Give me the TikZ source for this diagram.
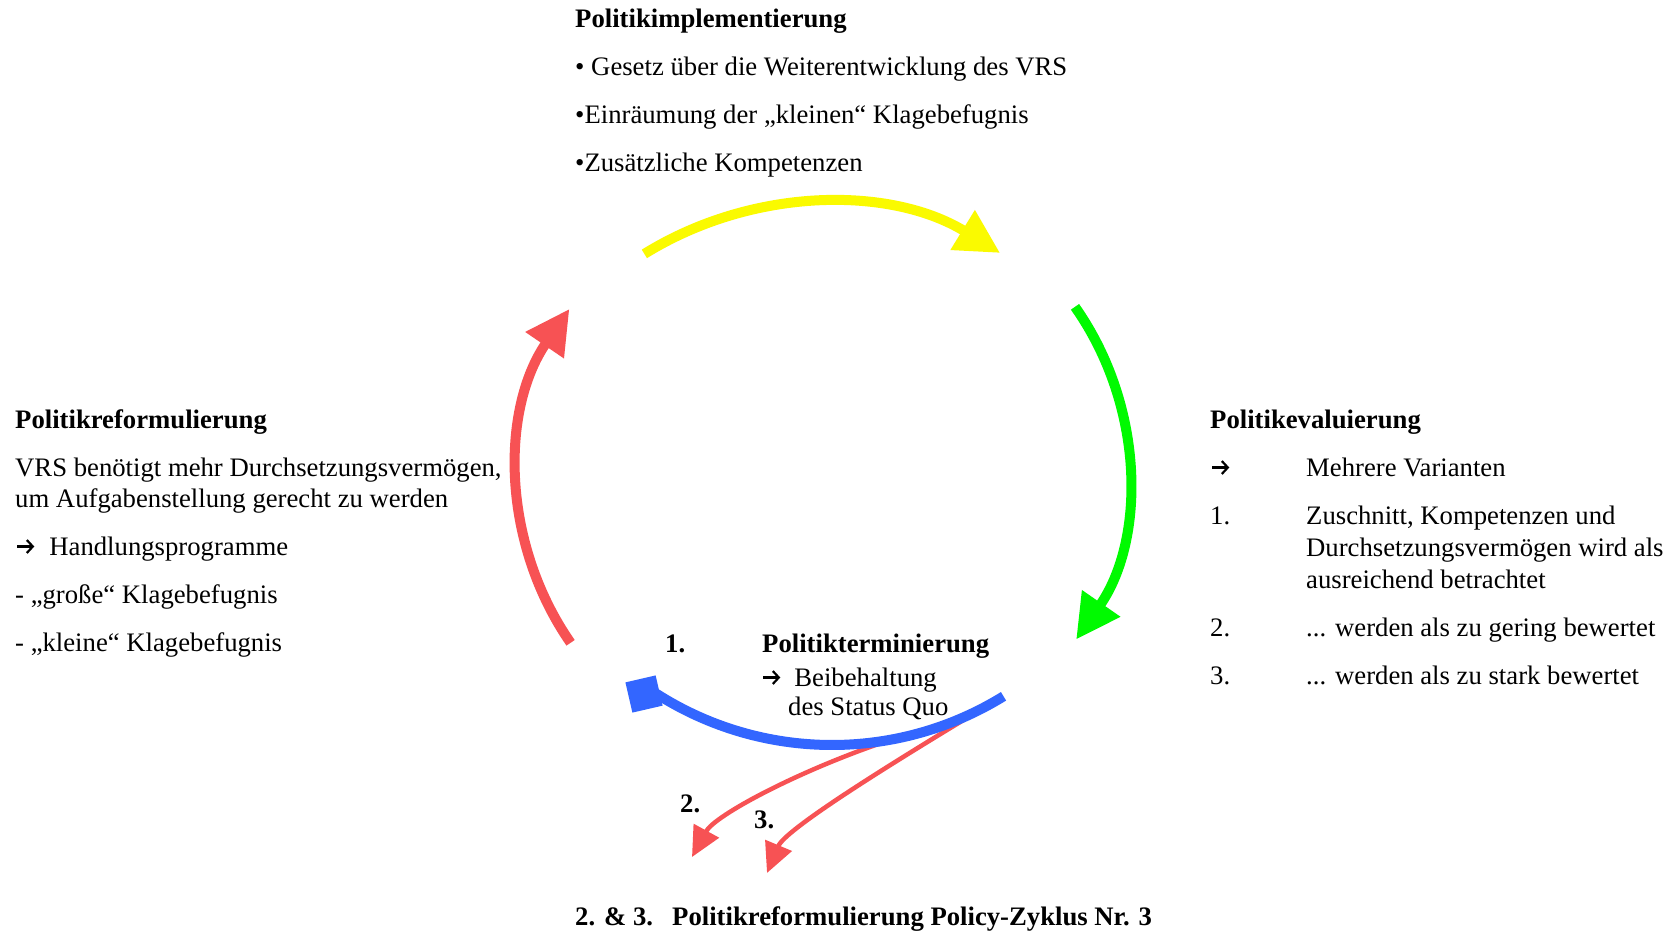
\documentclass[tikz,border=0pt]{standalone}
\usepackage{fontspec}
\setmainfont{Liberation Serif}
\usetikzlibrary{arrows.meta}
\newcommand{\arrglyph}{\tikz[baseline=0pt]\draw[line width=2.2pt, -{Straight Barb[length=6pt,width=13pt,line width=2.2pt]}] (0pt,8.5pt) -- (17pt,8.5pt);}
\definecolor{cyel}{RGB}{250,250,0}
\definecolor{cgreen}{RGB}{0,250,0}
\definecolor{cred}{RGB}{247,82,84}
\definecolor{cblue}{RGB}{51,102,255}
\begin{document}
\begin{tikzpicture}[x=1pt,y=1pt,
  txt/.style={anchor=base west, inner sep=0pt, font=\fontsize{26.7}{32}\selectfont},
  btxt/.style={anchor=base west, inner sep=0pt, font=\fontsize{26.7}{32}\selectfont\bfseries},
  bigarrow/.style={line width=10pt, -{Triangle[length=44pt,width=44pt]}},
  smallarrow/.style={line width=4.5pt, cred, -{Triangle[length=30pt,width=28pt]}}]
\useasboundingbox (0,0) rectangle (1677,-930);
\fill[white] (0,0) rectangle (1677,-930);

% top block
\node[btxt] (ttitle) at (575,-27) {Politikimplementierung};
\node[txt] (t1) at (575,-75) {• Gesetz über die Weiterentwicklung des VRS};
\node[txt] (t2) at (575,-123) {•Einräumung der „kleinen“ Klagebefugnis};
\node[txt] (t3) at (575,-171) {•Zusätzliche Kompetenzen};

% left block
\node[btxt] (ltitle) at (15,-428) {Politikreformulierung};
\node[txt] (l1) at (15,-476) {VRS benötigt mehr Durchsetzungsvermögen,};
\node[txt] (l2) at (15,-507) {um Aufgabenstellung gerecht zu werden};
\node[txt] (l3) at (16,-555) {\arrglyph\hspace{14pt}Handlungsprogramme};
\node[txt] (l4) at (15,-603) {- „große“ Klagebefugnis};
\node[txt] (l5) at (15,-651) {- „kleine“ Klagebefugnis};

% right block
\node[btxt] (rtitle) at (1210,-428) {Politikevaluierung};
\node[txt] (ra) at (1211,-476) {\arrglyph};
\node[txt] (r0) at (1306,-476) {Mehrere Varianten};
\node[txt] (rn1) at (1210,-524) {1.};
\node[txt] (r1a) at (1306,-524) {Zuschnitt, Kompetenzen und};
\node[txt] (r1b) at (1306,-556) {Durchsetzungsvermögen wird als};
\node[txt] (r1c) at (1306,-588) {ausreichend betrachtet};
\node[txt] (rn2) at (1210,-636) {2.};
\node[txt] (r2) at (1306,-636) {... werden als zu gering bewertet};
\node[txt] (rn3) at (1210,-684) {3.};
\node[txt] (r3) at (1306,-684) {... werden als zu stark bewertet};

% bottom center
\node[btxt] (bn1) at (665,-652) {1.};
\node[btxt] (btitle) at (762,-652) {Politikterminierung};
\node[txt] (b1) at (762,-686) {\arrglyph\hspace{13pt}Beibehaltung};
\node[txt] (b2) at (788,-715) {des Status Quo};
\node[btxt] (bn2) at (680,-812) {2.};
\node[btxt] (bn3) at (754,-828) {3.};
\node[btxt] (f1) at (575,-925) {2. \& 3.};
\node[btxt] (f2) at (672,-925) {Politikreformulierung Policy-Zyklus Nr. 3};

% cycle arrows
\coordinate (yc) at (823,-542);
\coordinate (gc) at (838,-474);
\coordinate (bc) at (832,-418.6);
\coordinate (rc) at (812,-475);
\draw[bigarrow, cyel] ([shift={(121.8:339pt)}]yc) arc[start angle=121.8, end angle=58.5, radius=339pt];
\draw[bigarrow, cgreen] ([shift={(35.2:290pt)}]gc) arc[start angle=35.2, end angle=-34.8, radius=290pt];
\draw[bigarrow, cred] ([shift={(214.8:294pt)}]rc) arc[start angle=214.8, end angle=145.6, radius=294pt];

% small red arrows (under blue)
\coordinate (s2) at (890,-740);
\coordinate (e2) at (692,-857);
\coordinate (s3) at (995,-701);
\coordinate (e3) at (767,-873);
\draw[smallarrow] (s2) .. controls (800,-770) and (715,-815) .. (e2);
\draw[smallarrow] (s3) .. controls (880,-770) and (785,-830) .. (e3);

% blue arc with square end
\draw[line width=10pt, cblue] ([shift={(-58.3:326.4pt)}]bc) arc[start angle=-58.3, end angle=-122.5, radius=326.4pt] coordinate (bend);
\node[fill=cblue, inner sep=0pt, minimum size=31pt, rotate=13] (bsq) at (644,-694) {};
\end{tikzpicture}
\end{document}
